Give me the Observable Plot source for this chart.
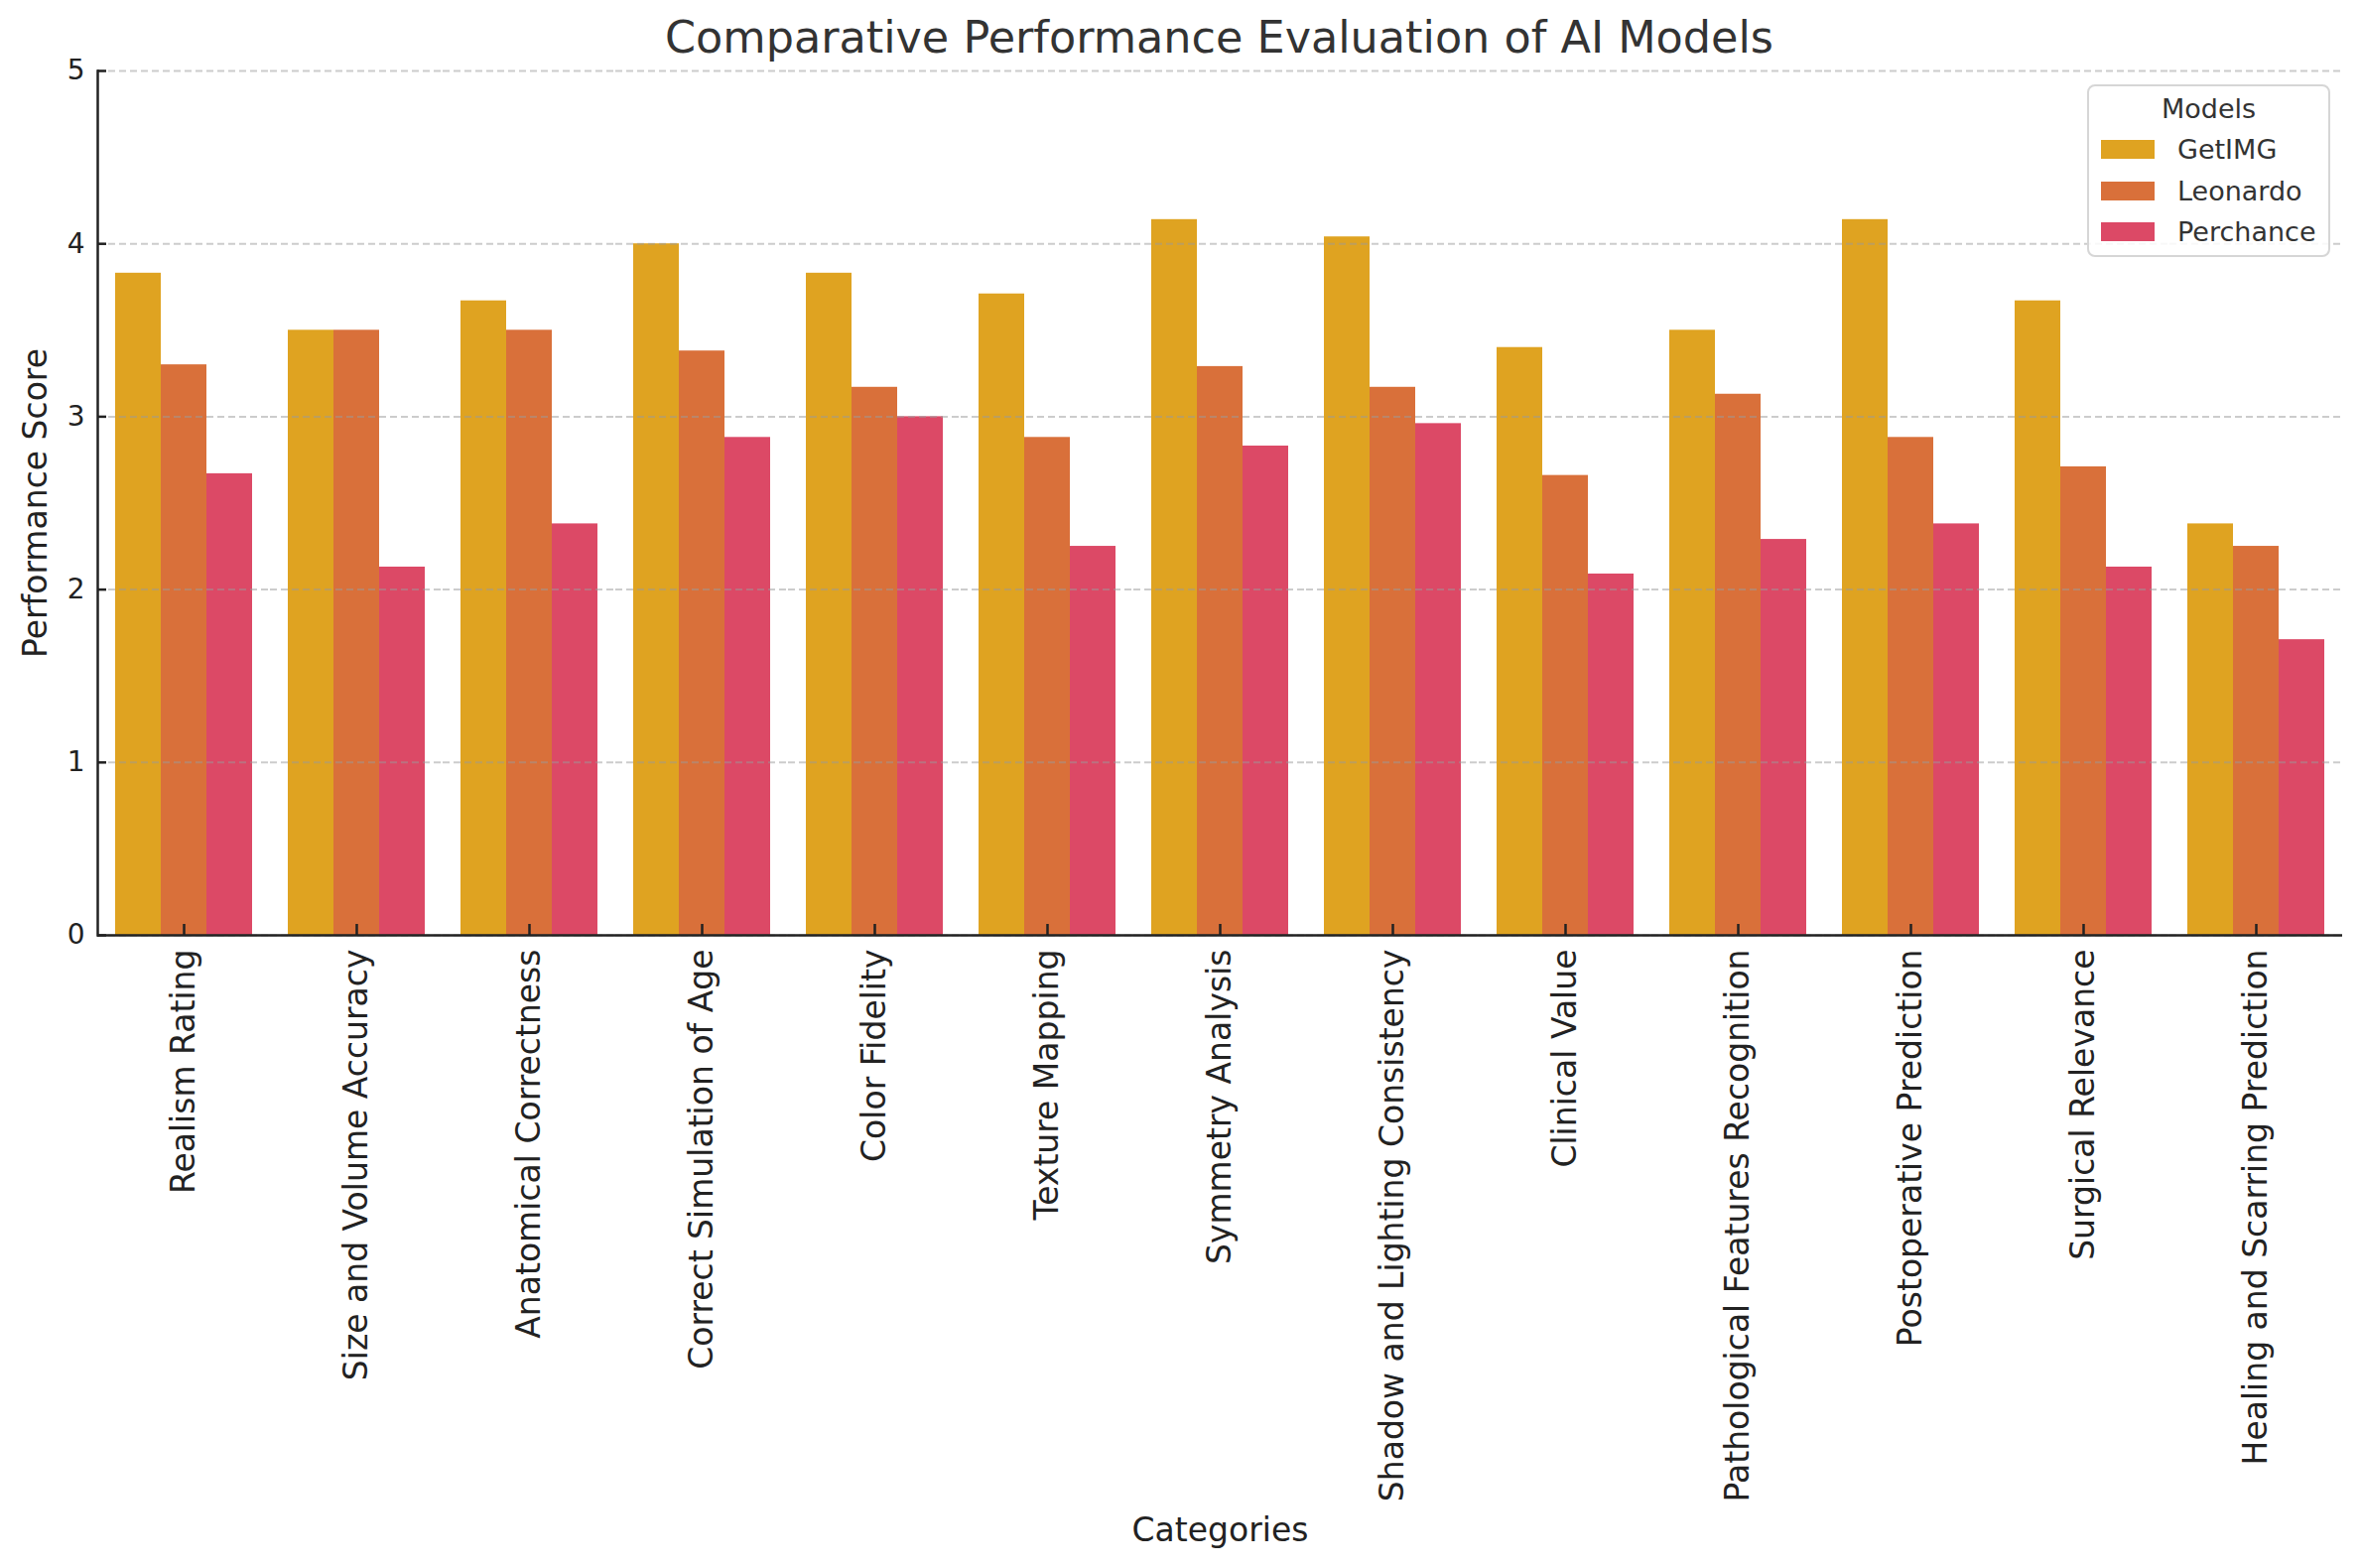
<!DOCTYPE html>
<html><head><meta charset="utf-8">
<script src="https://cdn.jsdelivr.net/npm/d3@7"></script>
<script src="https://cdn.jsdelivr.net/npm/@observablehq/plot@0.6"></script>
<style>
html,body{margin:0;padding:0;background:#fff;}
#wrap{position:relative;width:2379px;height:1580px;font-family:"DejaVu Sans",sans-serif;overflow:hidden;}
#chart{position:absolute;left:0;top:0;z-index:1;}
#title{position:absolute;left:96px;width:2265px;top:10px;text-align:center;font-size:44.5px;color:#333;line-height:56px;z-index:2;}
#legend{position:absolute;left:2103px;top:85px;width:241px;height:170px;border:2px solid #d6d6d6;border-radius:8px;background:rgba(255,255,255,0.85);color:#333;font-size:27px;box-sizing:content-box;z-index:2;}
#legend .lt{position:absolute;left:0;width:100%;top:7px;text-align:center;line-height:32px;}
#legend .row{position:absolute;left:12px;height:32px;}
#legend .sw{position:absolute;left:0;top:6px;width:54px;height:19px;}
#legend .lab{position:absolute;left:77px;top:0;line-height:32px;white-space:nowrap;}
</style></head><body>
<div id="wrap">
  <div id="chart"></div>
  <div id="title">Comparative Performance Evaluation of AI Models</div>
  <div id="legend"></div>
</div>
<script>
const categories = [
  "Realism Rating", "Size and Volume Accuracy", "Anatomical Correctness",
  "Correct Simulation of Age", "Color Fidelity", "Texture Mapping",
  "Symmetry Analysis", "Shadow and Lighting Consistency", "Clinical Value",
  "Pathological Features Recognition", "Postoperative Prediction",
  "Surgical Relevance", "Healing and Scarring Prediction"
];
const models = ["GetIMG", "Leonardo", "Perchance"];
const getimgScores    = [3.83, 3.50, 3.67, 4.00, 3.83, 3.71, 4.14, 4.04, 3.40, 3.50, 4.14, 3.67, 2.38];
const leonardoScores  = [3.30, 3.50, 3.50, 3.38, 3.17, 2.88, 3.29, 3.17, 2.66, 3.13, 2.88, 2.71, 2.25];
const perchanceScores = [2.67, 2.13, 2.38, 2.88, 3.00, 2.25, 2.83, 2.96, 2.09, 2.29, 2.38, 2.13, 1.71];
const yTicks = [0, 1, 2, 3, 4, 5];
const modelColors = ["#DFA321", "#D9703A", "#DC4966"];

const series = [getimgScores, leonardoScores, perchanceScores];
const data = categories.flatMap((c, i) => models.map((m, j) => ({category: c, model: m, score: series[j][i]})));

const chart = Plot.plot({
  width: 2379, height: 1580,
  marginLeft: 96, marginRight: 18, marginTop: 71, marginBottom: 638,
  style: {fontFamily: "DejaVu Sans, sans-serif", fontSize: "28px", color: "#222", background: "#fff", overflow: "visible"},
  fx: {domain: categories, padding: 0, label: null},
  x: {domain: models, paddingInner: 0, paddingOuter: 0.375, axis: null},
  y: {domain: [0, 5]},
  color: {domain: models, range: modelColors},
  marks: [
    Plot.barY(data, {fx: "category", x: "model", y: "score", fill: "model"}),
    Plot.gridY(yTicks, {stroke: "#999", strokeOpacity: 0.5, strokeDasharray: "7,4", strokeWidth: 2}),
    Plot.ruleY([0], {stroke: "#222", strokeWidth: 2.5}),
    Plot.frame({anchor: "left", facetAnchor: "left", stroke: "#222", strokeWidth: 2.5}),
    Plot.axisY(yTicks, {anchor: "left", tickSize: -9, tickPadding: 22, strokeWidth: 2.5, fontSize: 28,
      tickFormat: d => String(d), label: null}),
    Plot.axisY({anchor: "left", ticks: [], tickSize: 0, label: "Performance Score", labelArrow: "none",
      labelAnchor: "center", labelOffset: 75, fontSize: 33}),
    Plot.axisFx({anchor: "bottom", tickSize: -11, tickPadding: 25, strokeWidth: 2.5, tickRotate: -90, fontSize: 33,
      label: "Categories", labelArrow: "none", labelAnchor: "center", labelOffset: 610})
  ]
});
document.getElementById("chart").appendChild(chart);

const legend = document.getElementById("legend");
const lt = document.createElement("div"); lt.className = "lt"; lt.textContent = "Models"; legend.appendChild(lt);
models.forEach((m, j) => {
  const row = document.createElement("div"); row.className = "row"; row.style.top = (48 + j * 41.5) + "px";
  const sw = document.createElement("div"); sw.className = "sw"; sw.style.background = modelColors[j];
  const lab = document.createElement("div"); lab.className = "lab"; lab.textContent = m;
  row.appendChild(sw); row.appendChild(lab); legend.appendChild(row);
});
</script>
</body></html>
